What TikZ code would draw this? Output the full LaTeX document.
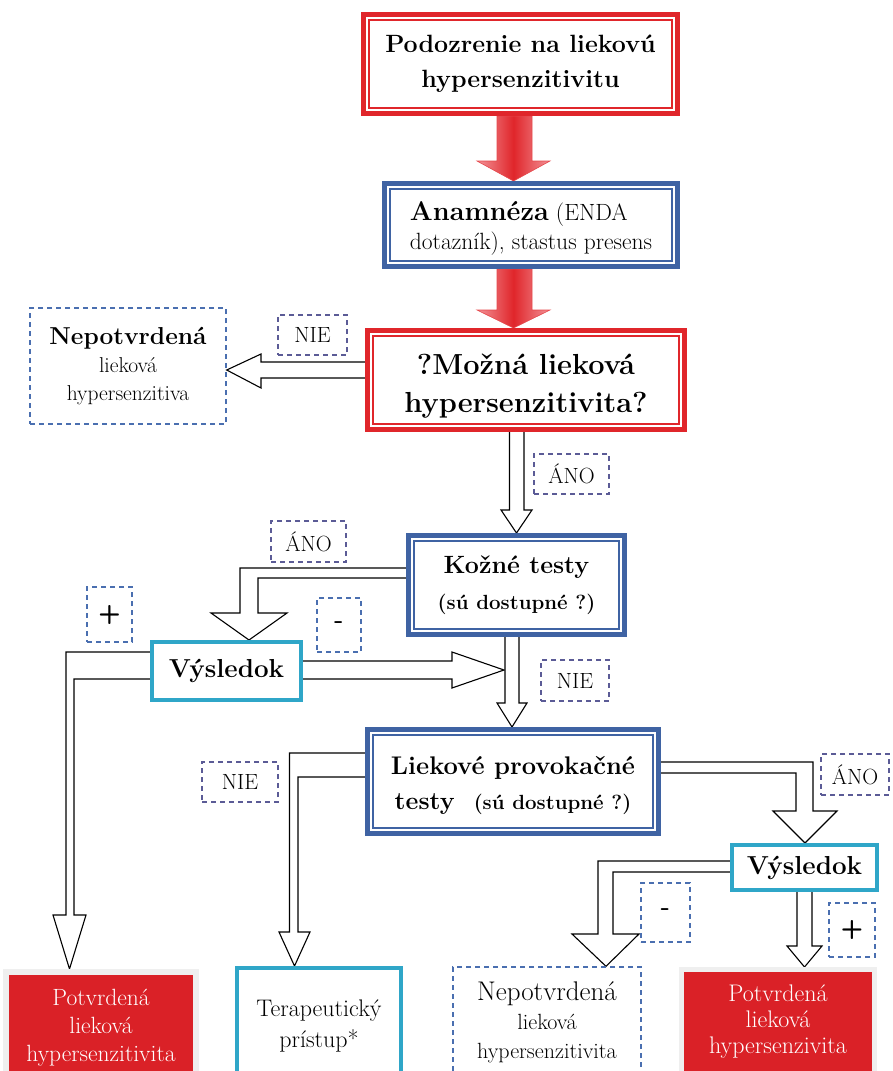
\documentclass[tikz,border=0pt]{standalone}
\usepackage{fontspec}
\usetikzlibrary{calc}
\pgfdeclarelayer{bg}
\pgfsetlayers{bg,main}
\definecolor{bred}{HTML}{E0262B}
\definecolor{rpink}{HTML}{F29297}
\definecolor{dbl}{HTML}{3F63A3}
\definecolor{cy}{HTML}{2FA6C8}
\definecolor{pur}{HTML}{5B5B96}
\definecolor{lbl}{HTML}{4A6FB0}
\definecolor{fred}{HTML}{DA2127}
\definecolor{rim}{HTML}{EFEFEF}
\newcommand\fsz[2]{\fontsize{#1}{#2}\selectfont}
\newcommand\dblframe[2]{\draw[#2,line width=1.4pt] ([shift={(8,8)}]#1.north west) rectangle ([shift={(-8,-8)}]#1.south east);}
\tikzset{
 dbox/.style={draw=#1, line width=5pt, fill=white, inner sep=0pt, align=center},
 cbox/.style={draw=cy, line width=4pt, fill=white, inner sep=0pt, align=center, font=\fsz{26}{30}\bfseries},
 txt/.style={inner sep=0pt, align=center},
 lab/.style={draw=pur, line width=1.4pt, dash pattern=on 5pt off 4pt, inner sep=0pt, font=\fsz{22}{24}},
 blab/.style={lab, draw=lbl, font=\sffamily\bfseries\fsz{26}{28}},
 harrow/.style={draw=black, line width=1.1pt, fill=white, line join=miter},
 rarrow/.style={draw=bred!85, line width=0.6pt, left color=rpink, right color=rpink, middle color=bred},
}
\begin{document}
\begin{tikzpicture}[x=1pt,y=-1pt]
\useasboundingbox (0,0) rectangle (892,1071);
\clip (0,0) rectangle (892,1071);

% main boxes
\node[dbox=bred, minimum width=314, minimum height=99, font=\fsz{25}{35}\bfseries] (b1) at (520.5,64) {Podozrenie na liekovú\\hypersenzitivitu};
\dblframe{b1}{bred}
\node[dbox=dbl, minimum width=293, minimum height=83] (b2) at (531,225) {};
\dblframe{b2}{dbl}
\node[txt, align=left, font=\fsz{23.5}{29}] (b2t) at (531,228) {{\fsz{27}{29}\bfseries Anamnéza} (ENDA\\dotazník), stastus presens};
\node[dbox=bred, minimum width=317, minimum height=99] (b3) at (526,380) {};
\dblframe{b3}{bred}
\node[txt, font=\fsz{29}{38}\bfseries] (b3t) at (526,386) {?Možná lieková\\hypersenzitivita?};
\node[dbox=dbl, minimum width=216, minimum height=99, font=\fsz{25}{36}\bfseries] (b4) at (516.5,585) {Kožné testy\\{\fsz{20.5}{36}(sú dostupné ?)}};
\dblframe{b4}{dbl}
\node[dbox=dbl, minimum width=291, minimum height=104] (b5) at (513,781.5) {};
\dblframe{b5}{dbl}
\node[txt, font=\fsz{25.5}{35}\bfseries] (b5t) at (513,785) {Liekové provokačné\\{\fsz{25}{35}testy}\ \ {\fsz{20.5}{35}(sú dostupné ?)}};

\node[cbox, minimum width=149, minimum height=58] (v1) at (226.5,671) {Výsledok};
\node[cbox, minimum width=145, minimum height=45] (v2) at (804.5,867.5) {Výsledok};

% side / result boxes
\node[draw=lbl, line width=1.4pt, dash pattern=on 5pt off 4pt, minimum width=196, minimum height=116, inner sep=0pt, align=center, font=\fsz{21.5}{28}] (nep1) at (128,366) {{\fsz{24.5}{30}\bfseries Nepotvrdená}\\lieková\\hypersenzitiva};
\node[draw=rim, line width=6pt, fill=fred, minimum width=190, minimum height=112, inner sep=0pt, align=center, text=white, font=\fsz{23.5}{28}] (potL) at (101,1028) {Potvrdená\\lieková\\hypersenzitivita};
\node[cbox, minimum width=164, minimum height=116, font=\fsz{24}{31}] (ter) at (319,1026) {Terapeutický\\prístup*};
\node[draw=lbl, line width=1.4pt, dash pattern=on 5pt off 4pt, minimum width=188, minimum height=110, inner sep=0pt, align=center, font=\fsz{22}{29}] (nep2) at (547,1022) {{\fsz{27}{30}Nepotvrdená}\\lieková\\hypersenzitivita};
\node[draw=rim, line width=5pt, fill=fred, minimum width=193, minimum height=121, inner sep=0pt] (potR) at (778,1030) {};
\node[txt, text=white, font=\fsz{24}{26}] (potRt) at (778,1022) {Potvrdená\\lieková\\hypersenzivita};

% labels
\node[lab, minimum width=69, minimum height=40] (nie1) at (312.5,335) {NIE};
\node[lab, minimum width=75, minimum height=40] (ano1) at (571.5,474) {ÁNO};
\node[lab, minimum width=75, minimum height=41] (ano2) at (308.5,541.5) {ÁNO};
\node[blab, minimum width=45, minimum height=55] (plus1) at (109.5,614.5) {+};
\node[blab, minimum width=44, minimum height=54] (minus1) at (339,625) {-};
\node[lab, minimum width=68, minimum height=41] (nie2) at (575,680.5) {NIE};
\node[lab, minimum width=76, minimum height=40] (nie3) at (240,782) {NIE};
\node[lab, minimum width=68, minimum height=41] (ano3) at (855,774.5) {ÁNO};
\node[blab, minimum width=49, minimum height=59] (minus2) at (665.5,912.5) {-};
\node[blab, minimum width=46, minimum height=54] (plus2) at (852,930) {+};

\coordinate (j) at (504,670);

\begin{pgfonlayer}{bg}
% red arrows
\path[rarrow] (497,0 |- b1.south) -- (497,161) -- (477,161) -- (513.5,0 |- b2.north) -- (550,161) -- (532,161) -- (532,0 |- b1.south) -- cycle;
\path[rarrow] (497,0 |- b2.south) -- (497,310) -- (477,310) -- (513.5,0 |- b3.north) -- (550,310) -- (532,310) -- (532,0 |- b2.south) -- cycle;
% hollow arrows
\draw[harrow] (b3.west |- 0,362) -- (261,362) -- (261,354) -- (nep1.east |- 0,370) -- (261,388) -- (261,378) -- (b3.west |- 0,378);
\draw[harrow] (509.5,0 |- b3.south) -- (509.5,510) -- (501,510) -- (b4.north) -- (532,510) -- (524,510) -- (524,0 |- b3.south);
\draw[harrow] (b4.west |- 0,568) -- (240,568) -- (240,613) -- (211,613) -- (249,0 |- v1.north) -- (287,613) -- (258,613) -- (258,578) -- (b4.west |- 0,578);
\draw[harrow] (v1.east |- 0,661) -- (452,661) -- (452,652) -- (j) -- (452,688) -- (452,679) -- (v1.east |- 0,679);
\draw[harrow] (505,0 |- b4.south) -- (505,703) -- (497,703) -- (512,0 |- b5.north) -- (527,703) -- (519,703) -- (519,0 |- b4.south);
\draw[harrow] (v1.west |- 0,652) -- (66,652) -- (66,915) -- (53,915) -- (69.5,0 |- potL.north) -- (86,915) -- (74,915) -- (74,679) -- (v1.west |- 0,679);
\draw[harrow] (b5.west |- 0,753) -- (289.5,753) -- (289.5,932) -- (279,932) -- (294.5,0 |- ter.north) -- (310,932) -- (298,932) -- (298,777) -- (b5.west |- 0,777);
\draw[harrow] (b5.east |- 0,762) -- (813,762) -- (813,811) -- (837,811) -- (805,0 |- v2.north) -- (773,811) -- (796,811) -- (796,773) -- (b5.east |- 0,773);
\draw[harrow] (v2.west |- 0,861) -- (598,861) -- (598,934) -- (572,934) -- (606,0 |- nep2.north) -- (639,934) -- (613,934) -- (613,872) -- (v2.west |- 0,872);
\draw[harrow] (797,0 |- v2.south) -- (797,946) -- (787,946) -- (804.5,0 |- potR.north) -- (822,946) -- (812,946) -- (812,0 |- v2.south);
\end{pgfonlayer}
\end{tikzpicture}
\end{document}
